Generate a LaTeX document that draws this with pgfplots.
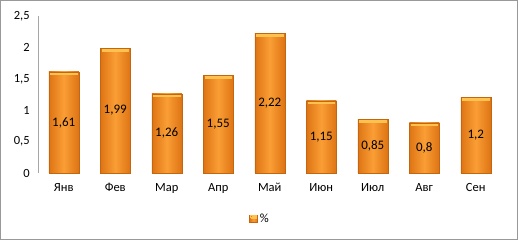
\documentclass[border=0pt]{standalone}
\usepackage{pgfplots}
\pgfplotsset{compat=1.18}
\usepackage{pgfplotstable}
\usepackage{fontspec}
\setmainfont{Carlito}

\definecolor{barmid}{HTML}{FA9E35}
\definecolor{baredge}{HTML}{DE7414}
\definecolor{barline}{HTML}{C4660F}
\definecolor{barcap}{HTML}{FFC24E}

\pgfplotstableread{
x v
0 1.61
1 1.99
2 1.26
3 1.55
4 2.22
5 1.15
6 0.85
7 0.8
8 1.2
}\rates

\pgfplotsset{
  orangebar/.style={ybar, bar width=30pt, draw=barline, line width=0.4pt,
    left color=baredge, right color=baredge, middle color=barmid,
    path picture={%
      \pgfsetfillcolor{barcap}%
      \pgfpathrectangle{\pgfpointadd{\pgfpointanchor{path picture bounding box}{north west}}{\pgfpoint{1.5pt}{-3.5pt}}}{\pgfpoint{27.4pt}{3pt}}%
      \pgfusepath{fill}%
    }},
}

\begin{document}
\begin{tikzpicture}[x=1pt,y=1pt]
\fontsize{12.5}{14}\selectfont
\draw[gray!80, line width=1pt] (0.5,0.5) rectangle (517.5,239.5);
\begin{axis}[
  at={(38pt,67pt)}, anchor=south west,
  scale only axis, width=463.5pt, height=157pt,
  xmin=-0.5, xmax=8.5, ymin=0, ymax=2.5,
  axis lines*=left,
  x axis line style={draw=none},
  y axis line style={draw=gray!70},
  major tick length=0pt,
  xtick={0,...,8},
  xticklabels={Янв,Фев,Мар,Апр,Май,Июн,Июл,Авг,Сен},
  ytick={0,0.5,...,2.5},
  /pgf/number format/use comma,
  /pgf/number format/assume math mode=true,
  tick label style={font=\fontsize{12.5}{14}\selectfont},
  xticklabel style={yshift=-6pt},
  yticklabel style={xshift=-4pt},
  legend style={at={(0.479,-0.293)}, anchor=center, draw=none, fill=none,
    font=\fontsize{12.5}{14}\selectfont, inner sep=1pt},
  legend image code/.code={
    \fill[baredge, draw=barline] (0pt,-3.5pt) rectangle (8pt,4pt);
    \fill[barcap] (1pt,2pt) rectangle (7pt,3.5pt);},
  clip=false,
]
% one plot per month so that every bar gets its own shading
\addplot[orangebar, restrict x to domain=0:0] table[x=x, y=v] {\rates};
\addlegendentry{\%}
\pgfplotsinvokeforeach{1,...,8}{
  \addplot[orangebar, forget plot, restrict x to domain=#1:#1] table[x=x, y=v] {\rates};
}
% value labels in the middle of each bar
\addplot[only marks, mark=none, forget plot,
  nodes near coords, point meta=explicit,
  nodes near coords style={anchor=center, font=\fontsize{13}{14}\selectfont, text=black}]
  table[x=x, y expr=\thisrow{v}/2, meta=v] {\rates};
\end{axis}
\end{tikzpicture}
\end{document}
